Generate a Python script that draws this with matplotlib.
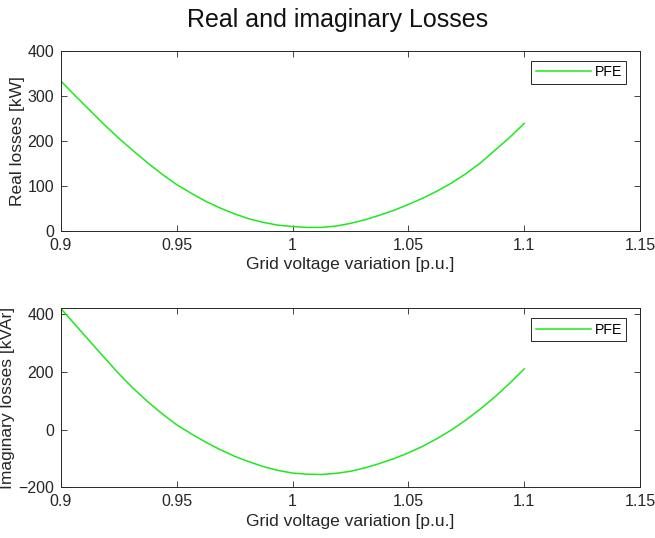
import matplotlib
matplotlib.use("Agg")
import matplotlib.pyplot as plt
from matplotlib.ticker import FuncFormatter

plt.rcParams['font.family'] = ['Liberation Sans', 'DejaVu Sans']

# tension de red [p.u.] y perdidas en el hierro
v_red = [0.9, 0.90625, 0.9125, 0.91875, 0.925, 0.93125, 0.9375, 0.94375,
         0.95, 0.95625, 0.9625, 0.96875, 0.975, 0.98125, 0.9875, 0.99375,
         1.0, 1.00625, 1.0125, 1.01875, 1.025, 1.03125, 1.0375, 1.04375,
         1.05, 1.05625, 1.0625, 1.06875, 1.075, 1.08125, 1.0875, 1.09375, 1.1]
p_real = [333, 300, 268, 236, 206, 178, 151, 126,
          103, 84, 66, 51, 38, 27, 19, 13,
          10, 8, 8, 11, 17, 25, 35, 46,
          59, 73, 89, 107, 128, 152, 180, 208, 239]
p_imag = [420, 363, 306, 250, 194, 143, 97, 55,
          17, -14, -43, -69, -92, -111, -128, -141,
          -150, -154, -155, -151, -144, -132, -117, -100,
          -80, -57, -30, 0, 35, 73, 115, 161, 211]

xticks = [0.9, 0.95, 1.0, 1.05, 1.1, 1.15]
gris = '#262626'
verde = '#1ee81e'

fig = plt.figure(figsize=(6.55, 5.38), dpi=100)
ax1 = fig.add_axes([0.0931, 0.5706, 0.884, 0.3346])
ax2 = fig.add_axes([0.0931, 0.0939, 0.884, 0.3331])

def fmt(v, pos):
    return '%g' % v

for ax, y, ylab, ylim, yt in [
        (ax1, p_real, 'Real losses [kW]', (0, 400), [0, 100, 200, 300, 400]),
        (ax2, p_imag, 'Imaginary losses [kVAr]', (-200, 421), [-200, 0, 200, 400])]:
    ax.plot(v_red, y, color=verde, lw=1.1, label='PFE')
    ax.set_xlim(0.9, 1.15)
    ax.set_ylim(*ylim)
    ax.set_xticks(xticks)
    ax.set_yticks(yt)
    ax.xaxis.set_major_formatter(FuncFormatter(fmt))
    ax.tick_params(direction='in', length=4.5, width=0.6, top=True, right=True,
                   labelsize=11.5, colors=gris, pad=5)
    for s in ax.spines.values():
        s.set_color(gris)
        s.set_linewidth(0.7)
    ax.set_xlabel('Grid voltage variation [p.u.]', fontsize=12.5, color=gris, labelpad=3)
    ax.set_ylabel(ylab, fontsize=12.5, color=gris, labelpad=2)
    leg = ax.legend(loc='upper right', bbox_to_anchor=(0.976, 0.944), borderaxespad=0,
                    fontsize=10.2, fancybox=False, framealpha=1, edgecolor=gris,
                    handlelength=3.9, borderpad=0.3, handletextpad=0.25)
    leg.get_frame().set_linewidth(0.7)

fig.suptitle('Real and imaginary Losses', x=0.515, y=0.985, fontsize=18, color='#111111')

plt.savefig('out.png', dpi=100)
